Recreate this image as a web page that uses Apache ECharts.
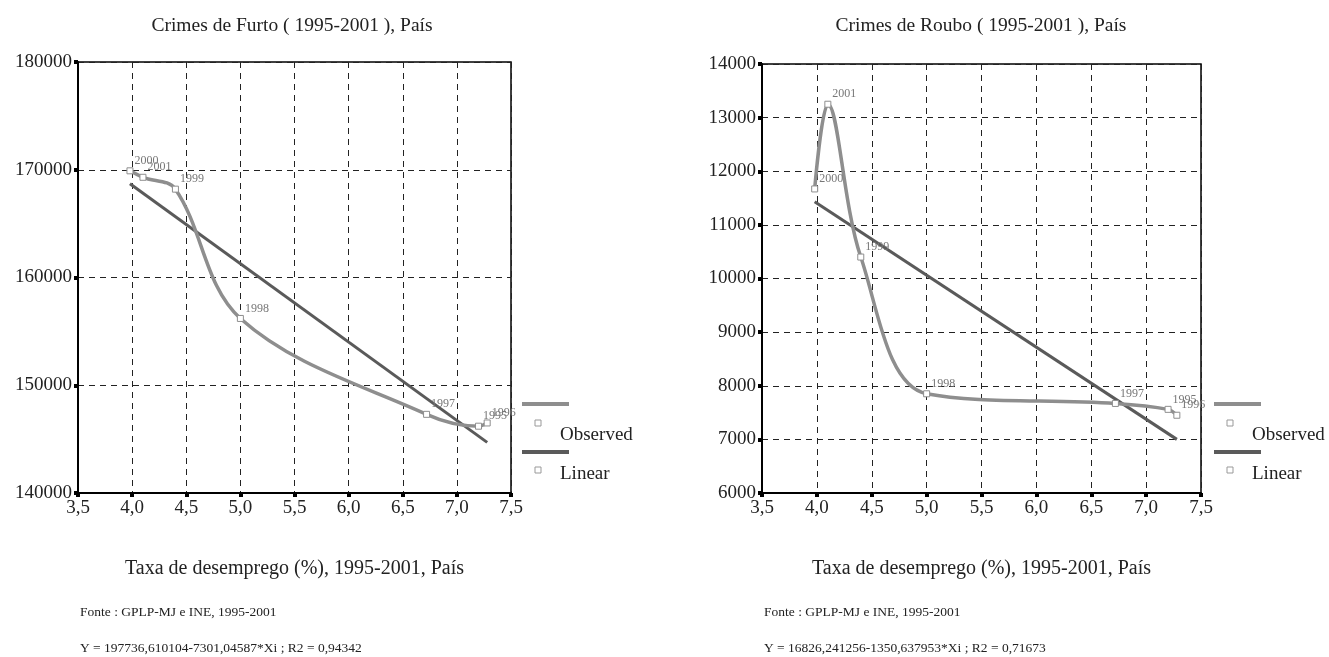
<!DOCTYPE html>
<html lang="pt">
<head>
<meta charset="UTF-8">
<title>Crimes de Furto e Roubo vs Taxa de desemprego</title>
<script src="https://cdn.jsdelivr.net/npm/echarts@6/dist/echarts.min.js"></script>
<style>
  html, body { margin: 0; padding: 0; background: #fff; }
</style>
</head>
<body>
<div id="main" style="width:1329px;height:657px;"></div>
<script>
// dados (ordenados pela taxa de desemprego)
var anos = ['2000', '2001', '1999', '1998', '1997', '1995', '1996'];
var desemprego = [3.98, 4.1, 4.4, 5.0, 6.72, 7.2, 7.28];
var furto = [169900, 169300, 168200, 156200, 147300, 146200, 146500];
var roubo = [11670, 13250, 10400, 7850, 7670, 7560, 7450];

// recta de regressao (extremos)
var linearX = [3.98, 7.28];
var furtoLinear = [168700, 144700];
var rouboLinear = [11430, 7000];

var xMin = 3.5, xMax = 7.5, xStep = 0.5;
var furtoMin = 140000, furtoMax = 180000, furtoStep = 10000;
var rouboMin = 6000, rouboMax = 14000, rouboStep = 1000;

var corObs = '#8e8e8e';
var corLin = '#5a5a5a';
var fonte = 'Liberation Serif';

function pares(xs, ys) {
    var out = [];
    for (var i = 0; i < xs.length; i++) out.push([xs[i], ys[i]]);
    return out;
}

function eixoX(idx) {
    return {
        type: 'value', gridIndex: idx,
        min: xMin, max: xMax, interval: xStep,
        name: 'Taxa de desemprego (%), 1995-2001, País',
        nameLocation: 'middle', nameGap: 66,
        nameTextStyle: { fontFamily: fonte, fontSize: 20, color: '#222' },
        axisLine: { onZero: false, lineStyle: { color: '#000', width: 2 } },
        axisTick: { show: true, length: 4, lineStyle: { color: '#000', width: 4 } },
        axisLabel: {
            margin: 6, fontFamily: fonte, fontSize: 19, color: '#222',
            formatter: function (v) { return v.toFixed(1).replace('.', ','); }
        },
        splitLine: { show: true, lineStyle: { color: '#222', width: 1, type: [6, 5] } }
    };
}

function eixoY(idx, mn, mx, st) {
    return {
        type: 'value', gridIndex: idx,
        min: mn, max: mx, interval: st,
        axisLine: { show: true, lineStyle: { color: '#000', width: 2 } },
        axisTick: { show: true, length: 4, lineStyle: { color: '#000', width: 4 } },
        axisLabel: {
            margin: 6, fontFamily: fonte, fontSize: 19, color: '#222',
            formatter: function (v) { return String(v); }
        },
        splitLine: { show: true, lineStyle: { color: '#222', width: 1, type: [6, 5] } }
    };
}

function observado(idx, ys) {
    return {
        name: 'Observed', type: 'line', xAxisIndex: idx, yAxisIndex: idx,
        data: pares(desemprego, ys),
        smooth: 0.35,
        symbol: 'rect', symbolSize: 6, showSymbol: true,
        lineStyle: { color: corObs, width: 3.5 },
        itemStyle: { color: '#fff', borderColor: corObs, borderWidth: 1 },
        label: {
            show: true, position: 'right', distance: 1, offset: [0, -10],
            fontFamily: fonte, fontSize: 12, color: '#777',
            formatter: function (p) { return anos[p.dataIndex]; }
        },
        z: 3
    };
}

function linear(idx, ys) {
    return {
        name: 'Linear', type: 'line', xAxisIndex: idx, yAxisIndex: idx,
        data: pares(linearX, ys),
        showSymbol: false,
        lineStyle: { color: corLin, width: 3 },
        z: 2
    };
}

function txt(x, y, s, size, align) {
    return {
        type: 'text', x: x, y: y,
        style: {
            text: s, font: size + 'px "' + fonte + '"', fill: '#222',
            align: align, textAlign: align, verticalAlign: 'middle', textVerticalAlign: 'middle'
        }
    };
}

function legenda(x0) {
    return [
        { type: 'line', shape: { x1: x0, y1: 404, x2: x0 + 47, y2: 404 }, style: { stroke: corObs, lineWidth: 4 } },
        { type: 'rect', shape: { x: x0 + 13, y: 420, width: 6, height: 6 }, style: { fill: '#fff', stroke: '#999', lineWidth: 1 } },
        txt(x0 + 38, 435, 'Observed', 19, 'left'),
        { type: 'line', shape: { x1: x0, y1: 452, x2: x0 + 47, y2: 452 }, style: { stroke: corLin, lineWidth: 4 } },
        { type: 'rect', shape: { x: x0 + 13, y: 467, width: 6, height: 6 }, style: { fill: '#fff', stroke: '#999', lineWidth: 1 } },
        txt(x0 + 38, 474, 'Linear', 19, 'left')
    ];
}

var myChart = echarts.init(document.getElementById('main'));
var option = {
    backgroundColor: '#fff',
    animation: false,
    grid: [
        { left: 78, top: 62, width: 433, height: 431, show: true, borderColor: '#000', borderWidth: 1.5 },
        { left: 762, top: 64, width: 439, height: 429, show: true, borderColor: '#000', borderWidth: 1.5 }
    ],
    xAxis: [eixoX(0), eixoX(1)],
    yAxis: [
        eixoY(0, furtoMin, furtoMax, furtoStep),
        eixoY(1, rouboMin, rouboMax, rouboStep)
    ],
    series: [
        linear(0, furtoLinear),
        observado(0, furto),
        linear(1, rouboLinear),
        observado(1, roubo)
    ],
    graphic: [
        txt(292, 26, 'Crimes de Furto ( 1995-2001 ), País', 19.5, 'center'),
        txt(981, 26, 'Crimes de Roubo ( 1995-2001 ), País', 19.5, 'center'),
        txt(80, 612, 'Fonte : GPLP-MJ e INE, 1995-2001', 13.5, 'left'),
        txt(80, 648, 'Y = 197736,610104-7301,04587*Xi ; R2 = 0,94342', 13.5, 'left'),
        txt(764, 612, 'Fonte : GPLP-MJ e INE, 1995-2001', 13.5, 'left'),
        txt(764, 648, 'Y = 16826,241256-1350,637953*Xi ; R2 = 0,71673', 13.5, 'left')
    ].concat(legenda(522)).concat(legenda(1214))
};
myChart.setOption(option);
</script>
</body>
</html>
